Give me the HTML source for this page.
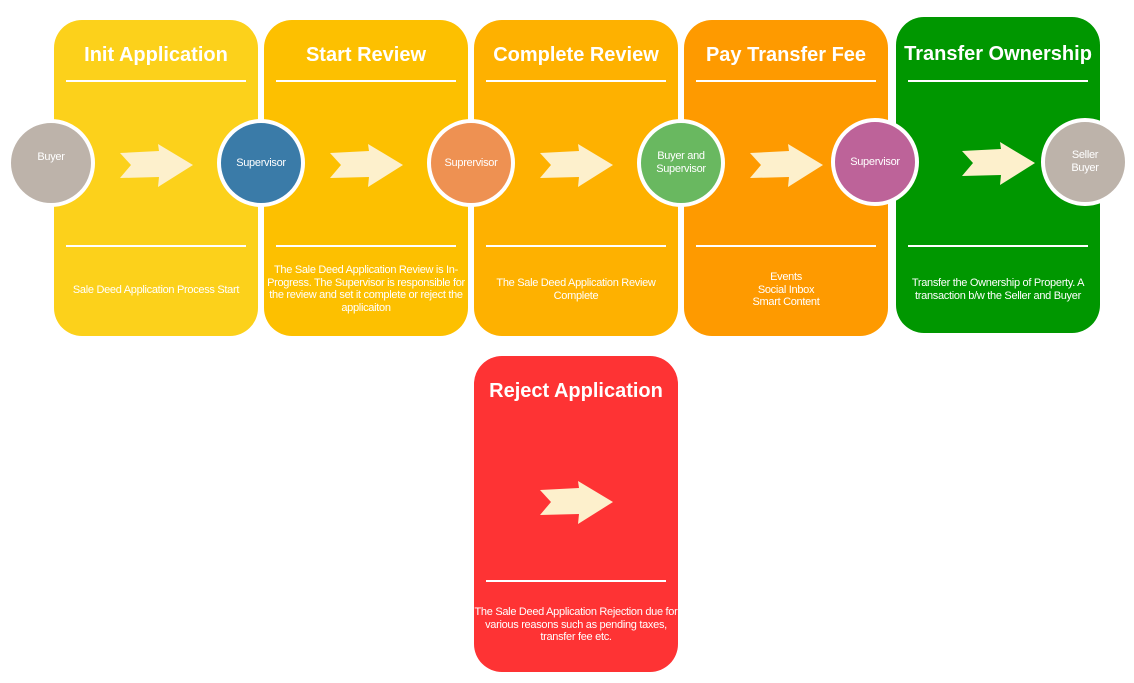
<!DOCTYPE html>
<html><head><style>
body{margin:0;width:1134px;height:683px;background:#fff;position:relative;overflow:hidden;font-family:"Liberation Sans",Arial,sans-serif;color:#fff}
.c{position:absolute;width:204px;height:316px;border-radius:28px}
.t{position:absolute;left:0;width:100%;text-align:center;top:24px;font-size:20px;font-weight:bold}
.l{position:absolute;left:12px;right:12px;height:2px;background:#fff}
.d{position:absolute;left:0;right:0;text-align:center;font-size:11px;line-height:12.5px;letter-spacing:-0.3px}
.o{position:absolute;width:80px;height:80px;border-radius:50%;border:4px solid #fff;display:flex;align-items:center;justify-content:center;text-align:center;font-size:11px;line-height:13px;letter-spacing:-0.3px}
svg{position:absolute}
</style></head><body>
<div class="c" style="left:54px;top:20px;background:#fcd11b"><div class="t">Init Application</div><div class="l" style="top:60px"></div><div class="l" style="top:225px"></div><div class="d" style="top:264px">Sale Deed Application Process Start</div></div>
<div class="c" style="left:264px;top:20px;background:#fdc000"><div class="t">Start Review</div><div class="l" style="top:60px"></div><div class="l" style="top:225px"></div><div class="d" style="top:244px;left:-2px;right:-2px">The Sale Deed Application Review is In-Progress. The Supervisor is responsible for the review and set it complete or reject the applicaiton</div></div>
<div class="c" style="left:474px;top:20px;background:#feb100"><div class="t">Complete Review</div><div class="l" style="top:60px"></div><div class="l" style="top:225px"></div><div class="d" style="top:257px">The Sale Deed Application Review<br>Complete</div></div>
<div class="c" style="left:684px;top:20px;background:#fe9a00"><div class="t">Pay Transfer Fee</div><div class="l" style="top:60px"></div><div class="l" style="top:225px"></div><div class="d" style="top:251px">Events<br>Social Inbox<br>Smart Content</div></div>
<div class="c" style="left:896px;top:17px;background:#009700"><div class="t" style="top:26px">Transfer Ownership</div><div class="l" style="top:63px"></div><div class="l" style="top:228px"></div><div class="d" style="top:260px">Transfer the Ownership of Property. A<br>transaction b/w the Seller and Buyer</div></div>
<div class="c" style="left:474px;top:356px;background:#fe3334"><div class="t">Reject Application</div><div class="l" style="top:224px"></div><div class="d" style="top:250px;left:-2px;right:-2px">The Sale Deed Application Rejection due for various reasons such as pending taxes, transfer fee etc.</div></div>

<div class="o" style="left:7px;top:119px;background:#bdb3aa"><span style="margin-top:-12px">Buyer</span></div>
<div class="o" style="left:217px;top:119px;background:#3a7ba8">Supervisor</div>
<div class="o" style="left:427px;top:119px;background:#ee9152">Suprervisor</div>
<div class="o" style="left:637px;top:119px;background:#69b860">Buyer and<br>Supervisor</div>
<div class="o" style="left:831px;top:118px;background:#bd6399">Supervisor</div>
<div class="o" style="left:1041px;top:118px;background:#bdb3aa">Seller<br>Buyer</div>

<svg width="1134" height="683" style="left:0;top:0">
<defs><polygon id="a" points="0,-12 39,-14 38,-21 73,0 38,22 39,12 0,13 11,0" fill="#fdf0cc"/></defs>
<use href="#a" x="120" y="165"/>
<use href="#a" x="330" y="165"/>
<use href="#a" x="540" y="165"/>
<use href="#a" x="750" y="165"/>
<use href="#a" x="962" y="163"/>
<use href="#a" x="540" y="502"/>
</svg>
</body></html>
